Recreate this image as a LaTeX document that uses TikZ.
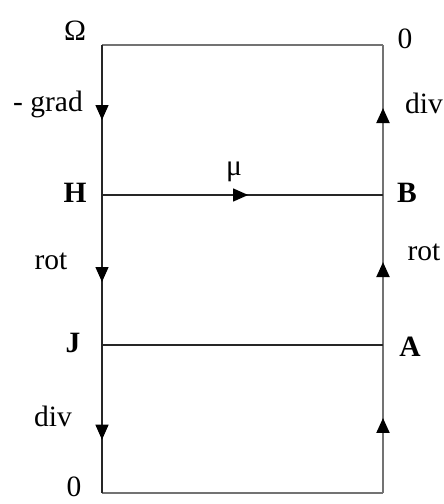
\documentclass[tikz,border=0pt]{standalone}
\usepackage{fontspec}
\setmainfont{Liberation Serif}
\usetikzlibrary{arrows.meta,decorations.markings}
\tikzset{
  lbl/.style={inner sep=0pt,font=\fontsize{29.5}{31}\selectfont},
  blbl/.style={lbl,font=\fontsize{29.5}{31}\selectfont\bfseries},
  darkline/.style={draw=black!85,line width=1.3pt},
  grayline/.style={draw=black!55,line width=2pt},
  midarrow/.style={decoration={markings,mark=at position #1 with {\arrow{Triangle[width=13pt,length=15pt,color=black]}}},postaction=decorate}
}
\begin{document}
\begin{tikzpicture}[x=1pt,y=-1pt]
\useasboundingbox (0,0) rectangle (444,504);
\coordinate (TL) at (102,45);
\coordinate (TR) at (383,45);
\coordinate (HL) at (102,195);
\coordinate (HR) at (383,195);
\coordinate (JL) at (102,345);
\coordinate (JR) at (383,345);
\coordinate (BL) at (102,493);
\coordinate (BR) at (383,493);
% frame
\draw[grayline] (TL) -- (TR);
\draw[grayline] (BL) -- (BR);
\draw[darkline,midarrow=0.5] (TL) -- (HL);
\draw[darkline,midarrow=0.58] (HL) -- (JL);
\draw[darkline,midarrow=0.64] (JL) -- (BL);
\draw[grayline,midarrow=0.507] (BR) -- (JR);
\draw[grayline,midarrow=0.553] (JR) -- (HR);
\draw[grayline,midarrow=0.58] (HR) -- (TR);
\draw[darkline,line width=1.1pt,midarrow=0.52] (HL) -- (HR);
\draw[darkline,line width=1.1pt] (JL) -- (JR);
% labels
\node[lbl] (om) at (75,31) {Ω};
\node[lbl,anchor=east] (grad) at (83,104) {- grad};
\node[lbl] (z1) at (405,39) {0};
\node[lbl,anchor=west] (div1) at (405,103) {div};
\node[blbl] (H) at (75,193) {H};
\node[blbl] (B) at (407,193) {B};
\node[lbl] (mu) at (234,172) {μ};
\node[lbl] (rot1) at (51,261) {rot};
\node[lbl] (rot2) at (424,252) {rot};
\node[blbl] (J) at (73,343) {J};
\node[blbl] (A) at (410,347) {A};
\node[lbl] (div2) at (53,416) {div};
\node[lbl] (z2) at (74,487) {0};
\end{tikzpicture}
\end{document}
